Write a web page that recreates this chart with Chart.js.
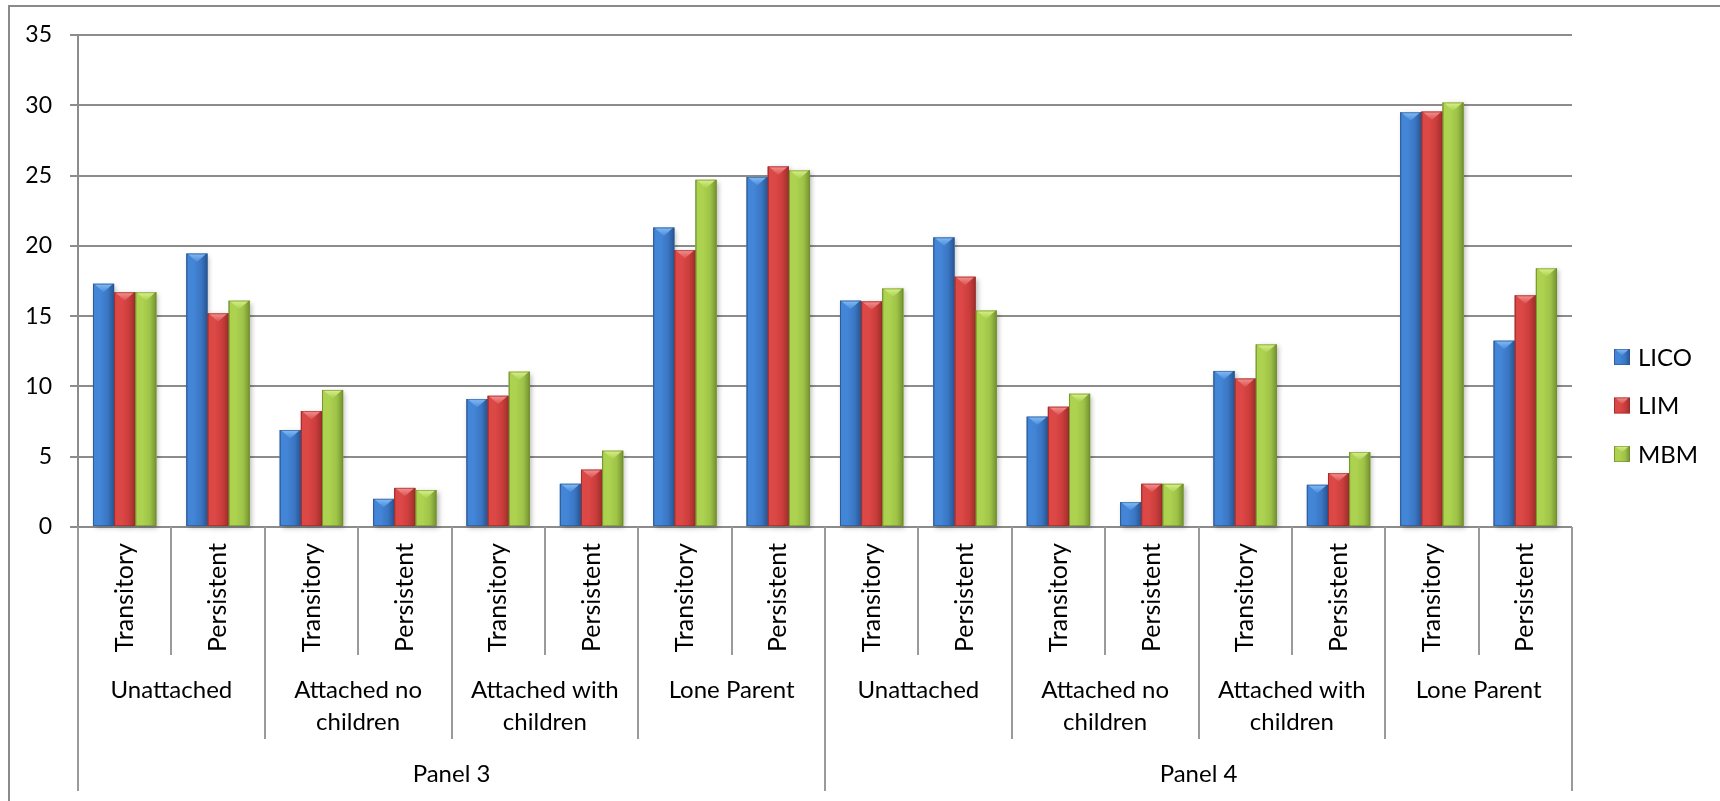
<!DOCTYPE html>
<html>
<head>
<meta charset="utf-8">
<script src="https://cdn.jsdelivr.net/npm/chart.js@4.4.1/dist/chart.umd.min.js"></script>
<style>
  html, body { margin: 0; padding: 0; background: #fff; overflow: hidden; }
  #wrap { position: relative; width: 1720px; height: 801px; }
</style>
</head>
<body>
<div id="wrap"><canvas id="chart" width="1720" height="801"></canvas></div>
<script>
// Poverty spell rates by family type, two panels
const panels = ['Panel 3', 'Panel 4'];
const groups = ['Unattached', ['Attached no', 'children'], ['Attached with', 'children'], 'Lone Parent'];
const spells = ['Transitory', 'Persistent'];

// one category per spell, ordered panel > family type > spell
const categories = [
  'Transitory', 'Persistent', 'Transitory', 'Persistent', 'Transitory', 'Persistent', 'Transitory', 'Persistent',
  'Transitory', 'Persistent', 'Transitory', 'Persistent', 'Transitory', 'Persistent', 'Transitory', 'Persistent'
];

const lico = [17.3, 19.45, 6.9, 2.0, 9.1, 3.07, 21.3, 24.9, 16.1, 20.6, 7.85, 1.77, 11.1, 3.0, 29.5, 13.25];
const lim  = [16.7, 15.2, 8.25, 2.78, 9.33, 4.08, 19.7, 25.65, 16.05, 17.8, 8.55, 3.07, 10.56, 3.83, 29.55, 16.48];
const mbm  = [16.7, 16.1, 9.75, 2.63, 11.05, 5.43, 24.7, 25.37, 16.97, 15.4, 9.48, 3.07, 12.99, 5.33, 30.2, 18.4];

const seriesNames = ['LICO', 'LIM', 'MBM'];
const yTicks = [0, 5, 10, 15, 20, 25, 30, 35];

// bevelled bar palettes: [edge, light, mid, dark, capLight, capDark]
const palettes = [
  ['#2A5590', '#4385D6', '#3A76C3', '#2C5C9C', '#84BCF5', '#4A8AD8'],
  ['#9A2A28', '#DC4846', '#CA3D3B', '#A63230', '#F49290', '#D85250'],
  ['#718E2C', '#ADD250', '#9DC247', '#7C9C36', '#DAF08C', '#A8D050']
];

const FONT = 'Lato, "Open Sans", sans-serif';
const GRID = '#8c8c8c';

function paintBevel(ctx, left, top, right, bottom, pal) {
  const w = right - left;
  const g = ctx.createLinearGradient(left, 0, right, 0);
  g.addColorStop(0, pal[0]);
  g.addColorStop(0.07, pal[1]);
  g.addColorStop(0.35, pal[1]);
  g.addColorStop(0.7, pal[2]);
  g.addColorStop(0.93, pal[3]);
  g.addColorStop(1, pal[0]);
  ctx.fillStyle = g;
  ctx.fillRect(left, top, w, bottom - top);
  // light cap facet at the top of the bar
  const bh = Math.min(w * 0.4, Math.max(bottom - top, 0));
  if (bh > 0) {
    const cg = ctx.createLinearGradient(0, top, 0, top + bh);
    cg.addColorStop(0, pal[4]);
    cg.addColorStop(1, pal[5]);
    ctx.fillStyle = cg;
    ctx.beginPath();
    ctx.moveTo(left + 1, top);
    ctx.lineTo(right - 1, top);
    ctx.lineTo((left + right) / 2, top + bh);
    ctx.closePath();
    ctx.fill();
  }
  ctx.strokeStyle = pal[0];
  ctx.globalAlpha = 0.6;
  ctx.lineWidth = 1;
  ctx.strokeRect(left + 0.5, top + 0.5, w - 1, bottom - top - 1);
  ctx.globalAlpha = 1;
}

// outer chart frame (runs off the right and bottom edges)
const framePlugin = {
  id: 'frame',
  beforeDraw(chart) {
    const ctx = chart.ctx;
    ctx.save();
    ctx.fillStyle = '#fff';
    ctx.fillRect(0, 0, chart.width, chart.height);
    ctx.strokeStyle = '#8a8a8a';
    ctx.lineWidth = 2;
    ctx.strokeRect(9, 6, chart.width + 20, chart.height + 20);
    ctx.restore();
  }
};

// soft shadow under bars, then bevel shading over the library's bars
const bevelPlugin = {
  id: 'bevel',
  beforeDatasetsDraw(chart) {
    const ctx = chart.ctx;
    ctx.save();
    ctx.shadowColor = 'rgba(0,0,0,0.28)';
    ctx.shadowBlur = 5;
    ctx.shadowOffsetX = 2;
    ctx.shadowOffsetY = 2;
    ctx.fillStyle = '#fff';
    chart.data.datasets.forEach((ds, di) => {
      chart.getDatasetMeta(di).data.forEach(el => {
        const p = el.getProps(['x', 'y', 'base', 'width'], true);
        ctx.fillRect(p.x - p.width / 2, p.y, p.width, p.base - p.y);
      });
    });
    ctx.restore();
  },
  afterDatasetsDraw(chart) {
    const ctx = chart.ctx;
    ctx.save();
    chart.data.datasets.forEach((ds, di) => {
      chart.getDatasetMeta(di).data.forEach(el => {
        const p = el.getProps(['x', 'y', 'base', 'width'], true);
        paintBevel(ctx, p.x - p.width / 2, p.y, p.x + p.width / 2, p.base, palettes[di]);
      });
    });
    ctx.restore();
  }
};

// family-type and panel rows under the spell labels, with divider lines
const hierarchyPlugin = {
  id: 'hierarchy',
  afterDraw(chart) {
    const ctx = chart.ctx;
    const xs = chart.scales.x;
    const base = chart.chartArea.bottom;
    const n = categories.length;
    const half = (xs.getPixelForValue(1) - xs.getPixelForValue(0)) / 2;
    const edge = k => (k < n ? xs.getPixelForValue(k) - half : xs.getPixelForValue(n - 1) + half);
    const perGroup = spells.length;
    const perPanel = groups.length * spells.length;

    ctx.save();
    ctx.strokeStyle = '#9a9a9a';
    ctx.lineWidth = 2;
    for (let k = 0; k <= n; k++) {
      let depth = 128;
      if (k % perPanel === 0) depth = 264;
      else if (k % perGroup === 0) depth = 212;
      const x = Math.round(edge(k));
      ctx.beginPath();
      ctx.moveTo(x, base);
      ctx.lineTo(x, base + depth);
      ctx.stroke();
    }

    ctx.fillStyle = '#000';
    ctx.font = '24px ' + FONT;
    ctx.textAlign = 'center';
    ctx.textBaseline = 'middle';
    panels.forEach((panel, pi) => {
      groups.forEach((grp, gi) => {
        const i0 = pi * perPanel + gi * perGroup;
        const cx = (xs.getPixelForValue(i0) + xs.getPixelForValue(i0 + perGroup - 1)) / 2;
        const lines = Array.isArray(grp) ? grp : [grp];
        lines.forEach((t, li) => ctx.fillText(t, cx, base + 163 + li * 32));
      });
      const p0 = pi * perPanel;
      const px = (xs.getPixelForValue(p0) + xs.getPixelForValue(p0 + perPanel - 1)) / 2;
      ctx.fillText(panel, px, base + 247);
    });
    ctx.restore();
  }
};

// legend to the right of the plot, centred on the chart height
const sideLegendPlugin = {
  id: 'sideLegend',
  afterDraw(chart) {
    const ctx = chart.ctx;
    const x0 = chart.chartArea.right + 42;
    const step = 48.5;
    const cy = chart.height / 2 + 5;
    ctx.save();
    ctx.font = '24px ' + FONT;
    ctx.textAlign = 'left';
    ctx.textBaseline = 'middle';
    seriesNames.forEach((name, i) => {
      const y = cy + (i - 1) * step;
      paintBevel(ctx, x0, y - 8, x0 + 16, y + 8, palettes[i]);
      ctx.fillStyle = '#000';
      ctx.fillText(name, x0 + 24, y + 1);
    });
    ctx.restore();
  }
};

const makeSet = (label, data, i) => ({
  label: label,
  data: data,
  backgroundColor: palettes[i][2],
  borderWidth: 0
});

new Chart(document.getElementById('chart'), {
  type: 'bar',
  data: {
    labels: categories,
    datasets: [makeSet('LICO', lico, 0), makeSet('LIM', lim, 1), makeSet('MBM', mbm, 2)]
  },
  options: {
    responsive: false,
    animation: false,
    layout: { padding: { top: 35, right: 148, left: 0, bottom: 0 } },
    plugins: { legend: { display: false }, tooltip: { enabled: false } },
    datasets: { bar: { categoryPercentage: 0.679, barPercentage: 1 } },
    scales: {
      x: {
        grid: { display: false, drawTicks: false },
        border: { display: false },
        ticks: {
          minRotation: 90, maxRotation: 90, autoSkip: false, padding: 16,
          color: '#000', font: { family: FONT, size: 25 }
        },
        afterFit: s => { s.height = 274; }
      },
      y: {
        min: 0, max: 35,
        afterBuildTicks: s => { s.ticks = yTicks.map(v => ({ value: v })); },
        ticks: { padding: 18, color: '#000', font: { family: FONT, size: 23 } },
        grid: { color: GRID, lineWidth: 2, tickLength: 8, drawTicks: true },
        border: { color: GRID, width: 2 },
        afterFit: s => { s.width = 78; }
      }
    }
  },
  plugins: [framePlugin, bevelPlugin, hierarchyPlugin, sideLegendPlugin]
});
</script>
</body>
</html>
